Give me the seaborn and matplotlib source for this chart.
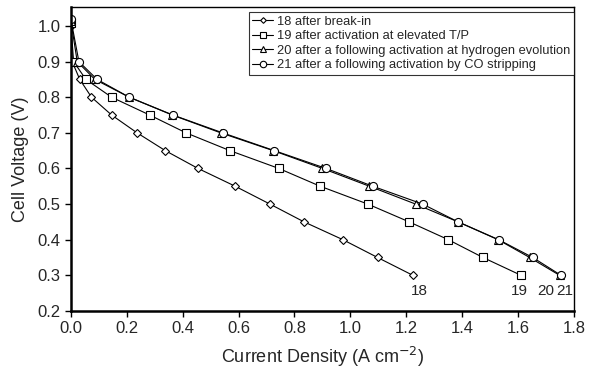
import matplotlib
matplotlib.use("Agg")
import matplotlib.pyplot as plt
import seaborn as sns
import pandas as pd

voltage = [1.0, 0.9, 0.85, 0.8, 0.75, 0.7, 0.65, 0.6, 0.55, 0.5, 0.45, 0.4, 0.35, 0.3]
v_start = {"18": 1.0, "19": 1.008, "20": 1.015, "21": 1.02}

cd_18 = [0.0, 0.005, 0.032, 0.074, 0.146, 0.237, 0.338, 0.455, 0.588, 0.712, 0.834, 0.973, 1.097, 1.223]
cd_19 = [0.0, 0.010, 0.054, 0.146, 0.282, 0.412, 0.569, 0.744, 0.892, 1.062, 1.210, 1.350, 1.474, 1.610]
cd_20 = [0.0, 0.023, 0.086, 0.209, 0.363, 0.536, 0.724, 0.900, 1.068, 1.233, 1.385, 1.528, 1.641, 1.748]
cd_21 = [0.0, 0.029, 0.094, 0.209, 0.365, 0.543, 0.728, 0.913, 1.080, 1.258, 1.385, 1.530, 1.652, 1.753]

labels = ["18 after break-in",
          "19 after activation at elevated T/P",
          "20 after a following activation at hydrogen evolution",
          "21 after a following activation by CO stripping"]
end_labels = ["18", "19", "20", "21"]
end_label_x = [1.245, 1.605, 1.700, 1.765]

series = [cd_18, cd_19, cd_20, cd_21]
markers = ["D", "s", "^", "o"]
msizes = [3.6, 5.5, 5.8, 5.8]

rows = []
for lab, key, cd in zip(labels, end_labels, series):
    for i, (x, v) in enumerate(zip(cd, voltage)):
        rows.append({"series": lab, "cd": x, "v": v_start[key] if i == 0 else v, "order": i})
df = pd.DataFrame(rows)

sns.set_style("ticks")
plt.rcParams["font.family"] = ["Liberation Sans", "DejaVu Sans"]

fig = plt.figure(figsize=(5.9, 3.75), dpi=100)
ax = fig.add_axes([0.120, 0.171, 0.853, 0.810])

for lab, m, ms in zip(labels, markers, msizes):
    sub = df[df["series"] == lab]
    sns.lineplot(data=sub, x="cd", y="v", sort=False, ax=ax, color="black",
                 linewidth=0.8, marker=m, markersize=ms, markerfacecolor="white",
                 markeredgecolor="black", markeredgewidth=0.8, label=lab)

for t, x in zip(end_labels, end_label_x):
    ax.text(x, 0.255, t, ha="center", va="center", fontsize=11)

ax.set_xlim(0, 1.8)
ax.set_ylim(0.2, 1.053)
ax.set_xticks([0.0, 0.2, 0.4, 0.6, 0.8, 1.0, 1.2, 1.4, 1.6, 1.8])
ax.set_yticks([0.2, 0.3, 0.4, 0.5, 0.6, 0.7, 0.8, 0.9, 1.0])
ax.set_xticklabels([f"{t:.1f}" for t in ax.get_xticks()])
ax.set_yticklabels([f"{t:.1f}" for t in ax.get_yticks()])
ax.tick_params(axis="both", labelsize=12, direction="out", length=4, width=1, color="black")
ax.set_xlabel("Current Density (A cm$^{-2}$)", fontsize=13, labelpad=6)
ax.set_ylabel("Cell Voltage (V)", fontsize=13, labelpad=6)

for s in ["left", "bottom"]:
    ax.spines[s].set_linewidth(1.8)
for s in ["top", "right"]:
    ax.spines[s].set_linewidth(1.0)
for s in ax.spines.values():
    s.set_color("black")

leg = ax.legend(loc="upper right", bbox_to_anchor=(1.0, 0.985), fontsize=9.3, frameon=True,
                fancybox=False, edgecolor="black", handlelength=1.6, handletextpad=0.3,
                labelspacing=0.2, borderpad=0.3, borderaxespad=0.0, markerscale=0.8)
leg.get_frame().set_linewidth(0.8)

fig.savefig("out.png", dpi=100)
